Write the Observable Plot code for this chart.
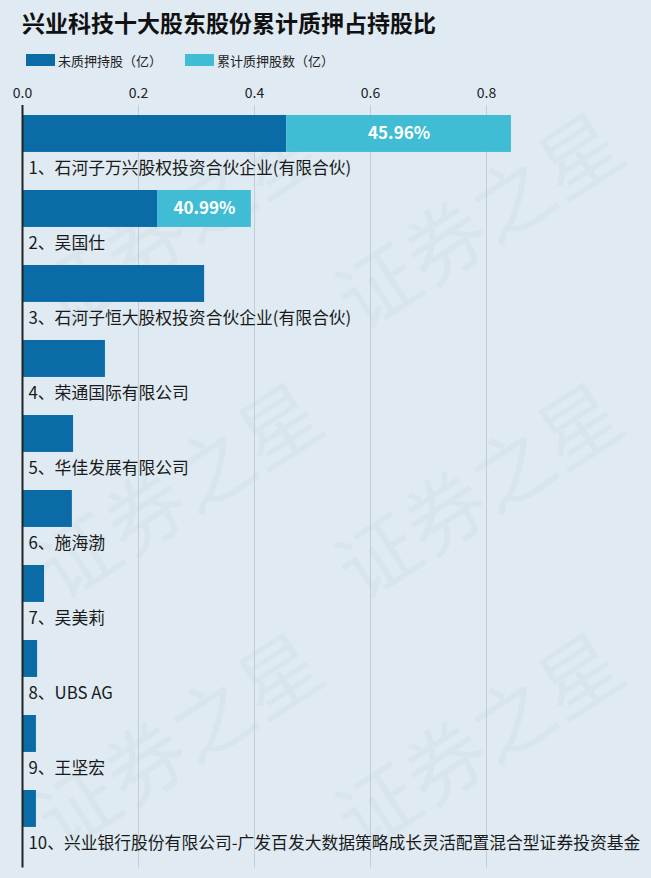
<!DOCTYPE html>
<html>
<head>
<meta charset="utf-8">
<script src="https://cdn.jsdelivr.net/npm/d3@7"></script>
<script src="https://cdn.jsdelivr.net/npm/@observablehq/plot@0.6"></script>
<style>
  html, body { margin: 0; padding: 0; background: #dfeaf2; }
  body { width: 651px; height: 878px; overflow: hidden; position: relative;
         font-family: "Noto Sans CJK SC", "Noto Sans", sans-serif; color: #111; }
  #title { height: 44px; line-height: 44px; padding-left: 22px; font-size: 23px; font-weight: bold; position: relative; z-index: 1; }
  #legend { height: 32px; display: flex; align-items: center; padding-left: 26px; font-size: 13px; color: #222; position: relative; z-index: 1; }
  #legend .sw { display: inline-block; width: 29px; height: 12px; margin-right: 3px; }
  #legend .item { display: flex; align-items: center; margin-right: 23px; }
  #chart { position: relative; z-index: 1; }
  #wm { position: absolute; left: 0; top: 0; width: 651px; height: 878px; z-index: 0; overflow: hidden; pointer-events: none; }
  #wm span { position: absolute; font-size: 80px; line-height: 80px; color: rgba(120,140,160,0.055); transform: rotate(-33deg); transform-origin: left top; white-space: nowrap; font-family: "Noto Sans CJK SC"; }
</style>
</head>
<body>
<div id="wm"></div>
<div id="title"></div>
<div id="legend"></div>
<div id="chart"></div>
<script>
const titleText = "兴业科技十大股东股份累计质押占持股比";
const seriesNames = ["未质押持股（亿）", "累计质押股数（亿）"];
const seriesColors = ["#0a6ba6", "#40bcd5"];
const names = [
  "1、石河子万兴股权投资合伙企业(有限合伙)",
  "2、吴国仕",
  "3、石河子恒大股权投资合伙企业(有限合伙)",
  "4、荣通国际有限公司",
  "5、华佳发展有限公司",
  "6、施海渤",
  "7、吴美莉",
  "8、UBS AG",
  "9、王坚宏",
  "10、兴业银行股份有限公司-广发百发大数据策略成长灵活配置混合型证券投资基金"
];
const unpledged = [0.4555, 0.2328, 0.314, 0.143, 0.088, 0.086, 0.038, 0.026, 0.024, 0.024];
const pledged   = [0.3875, 0.1618, 0, 0, 0, 0, 0, 0, 0, 0];
const pledgeRatio = ["45.96%", "40.99%", "", "", "", "", "", "", "", ""];
const xTicks = [0, 0.2, 0.4, 0.6, 0.8];
const watermark = "证券之星";

document.getElementById("title").textContent = titleText;
const legend = document.getElementById("legend");
seriesNames.forEach((s, i) => {
  const it = document.createElement("div");
  it.className = "item";
  const sw = document.createElement("span");
  sw.className = "sw";
  sw.style.background = seriesColors[i];
  it.appendChild(sw);
  it.appendChild(document.createTextNode(s));
  legend.appendChild(it);
});

// faint watermark
const wm = document.getElementById("wm");
[[20, 270], [20, 540], [20, 790], [320, 270], [320, 540], [320, 790]].forEach(([l, t]) => {
  const s = document.createElement("span");
  s.textContent = watermark;
  s.style.left = l + "px";
  s.style.top = t + "px";
  wm.appendChild(s);
});

const rows = [];
names.forEach((n, i) => {
  rows.push({name: n, series: seriesNames[0], value: unpledged[i], order: 0});
  rows.push({name: n, series: seriesNames[1], value: pledged[i], order: 1});
});
const labels = names.map((n, i) => ({name: n, x: unpledged[i] + pledged[i] / 2, ratio: pledgeRatio[i]}));

const step = 75.56;
const barH = 37.5;
const H = 802;

const chart = Plot.plot({
  width: 651,
  height: H,
  marginLeft: 22,
  marginRight: 49,
  marginTop: 36,
  marginBottom: 10.4,
  style: {background: "transparent", fontFamily: "\"Noto Sans CJK SC\", sans-serif"},
  x: {domain: [0, 1], axis: null},
  y: {domain: names, type: "band", padding: 0, axis: null},
  color: {domain: seriesNames, range: seriesColors},
  marks: [
    Plot.ruleX(xTicks.slice(1), {stroke: "#c3cdd6", strokeWidth: 1, insetTop: -7, insetBottom: 0}),
    Plot.axisX(xTicks, {anchor: "top", tickSize: 0, tickPadding: 15, tickFormat: d3.format(".1f"), fontSize: 14, fill: "#222", label: null}),
    Plot.barX(rows, Plot.stackX({x: "value", y: "name", fill: "series", order: "order", insetBottom: step - barH})),
    Plot.text(labels.filter(d => d.ratio), {x: "x", y: "name", text: "ratio", fill: "white", fontSize: 17, fontWeight: "bold", dy: barH / 2 - step / 2}),
    Plot.text(names, {x: 0, y: d => d, text: d => d, textAnchor: "start", dx: 6, dy: 15.5, fontSize: 16.8, fill: "#1a1a1a"}),
    Plot.ruleX([0], {stroke: "#222", strokeWidth: 2, insetTop: -7, insetBottom: 0})
  ]
});
document.getElementById("chart").appendChild(chart);
</script>
</body>
</html>
